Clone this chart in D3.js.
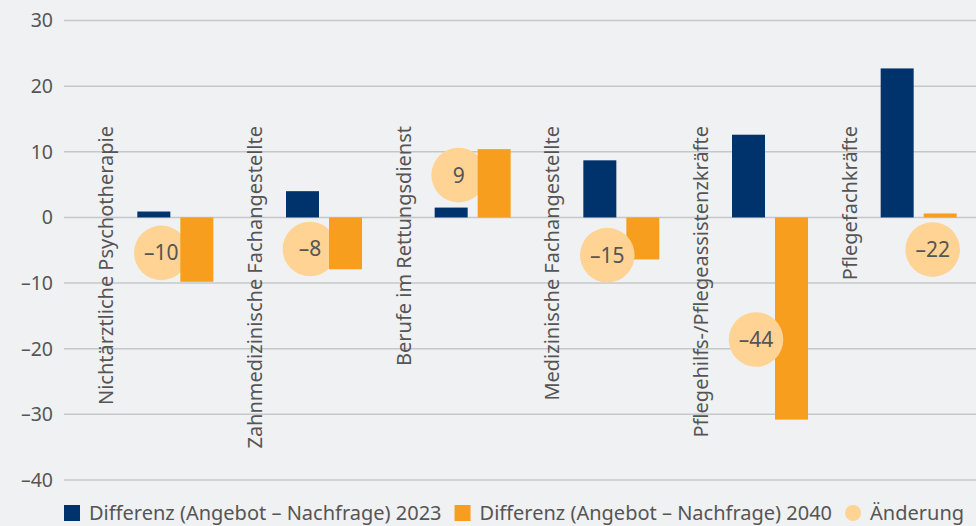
<!DOCTYPE html>
<html>
<head>
<meta charset="utf-8">
<script src="https://cdn.jsdelivr.net/npm/d3@7"></script>
<style>
    html, body { margin: 0; padding: 0; background: #f0f1f3; }
    svg { display: block; }
    text { font-family: "Noto Sans", "Open Sans", sans-serif; fill: #555; font-stretch: condensed; }
</style>
</head>
<body>
<svg id="viz"></svg>
<script>
var width = 976;
var height = 526;

// data
var categories = [
    "Nichtärztliche Psychotherapie",
    "Zahnmedizinische Fachangestellte",
    "Berufe im Rettungsdienst",
    "Medizinische Fachangestellte",
    "Pflegehilfs-/Pflegeassistenzkräfte",
    "Pflegefachkräfte"
];
var seriesKeys = ["2023", "2040"];
var seriesNames = [
    "Differenz (Angebot – Nachfrage) 2023",
    "Differenz (Angebot – Nachfrage) 2040",
    "Änderung"
];
var diff2023 = [0.9, 4.0, 1.5, 8.7, 12.6, 22.7];
var diff2040 = [-9.8, -7.9, 10.4, -6.4, -30.8, 0.6];
var change = [-10, -8, 9, -15, -44, -22];
// where the change bubbles sit (value axis) and which bar they lean to
var bubbleValue = [-5.4, -4.8, 6.45, -5.75, -18.6, -4.9];
var bubbleNear = ["2023", "2023", "2023", "2023", "2023", "2040"];
var yTicks = [30, 20, 10, 0, -10, -20, -30, -40];

var colors = { "2023": "#00336b", "2040": "#f79e1e", change: "#fed394" };

// minus as a dash, like the original
function fmt(v) {
    return v < 0 ? "–" + Math.abs(v) : String(v);
}

var svg = d3.select("#viz")
    .attr("width", width)
    .attr("height", height);

svg.append("rect")
    .attr("width", width)
    .attr("height", height)
    .attr("fill", "#f0f1f3");

var y = d3.scaleLinear()
    .domain([-40, 30])
    .range([480, 20.5]);

var x = d3.scaleBand()
    .domain(categories)
    .range([101, 993]);

var xSub = d3.scaleBand()
    .domain(seriesKeys)
    .range([-38, 38])
    .paddingInner(10 / 43);

// gridlines + tick labels
var grid = svg.append("g").attr("class", "grid");
grid.selectAll("line")
    .data(yTicks)
    .enter()
    .append("line")
    .attr("x1", 64)
    .attr("x2", width)
    .attr("y1", function (d) { return y(d); })
    .attr("y2", function (d) { return y(d); })
    .attr("stroke", "#c6c7c9")
    .attr("stroke-width", 1.5);

grid.selectAll("text")
    .data(yTicks)
    .enter()
    .append("text")
    .attr("x", 53)
    .attr("y", function (d) { return y(d); })
    .attr("dy", "0.35em")
    .attr("text-anchor", "end")
    .style("font-size", "19.5px")
    .text(fmt);

// category labels, rotated, end aligned at the top
svg.append("g").attr("class", "cat-labels")
    .selectAll("text")
    .data(categories)
    .enter()
    .append("text")
    .attr("transform", function (d) {
        return "translate(" + (x(d) + x.bandwidth() / 2 - 62) + ",126) rotate(-90)";
    })
    .attr("text-anchor", "end")
    .style("font-size", "20px")
    .text(function (d) { return d; });

var rows = categories.map(function (c, i) {
    return {
        cat: c,
        values: [
            { key: "2023", v: diff2023[i] },
            { key: "2040", v: diff2040[i] }
        ],
        change: change[i],
        bubble: bubbleValue[i],
        near: bubbleNear[i],
        i: i
    };
});

var groups = svg.append("g").attr("class", "bars")
    .selectAll("g")
    .data(rows)
    .enter()
    .append("g")
    .attr("transform", function (d) {
        return "translate(" + (x(d.cat) + x.bandwidth() / 2) + ",0)";
    });

function drawBar(g, key) {
    g.append("rect")
        .attr("x", function (d) { return xSub(key); })
        .attr("width", xSub.bandwidth())
        .attr("y", function (d) {
            var v = d.values.find(function (o) { return o.key == key; }).v;
            return y(Math.max(0, v));
        })
        .attr("height", function (d) {
            var v = d.values.find(function (o) { return o.key == key; }).v;
            return Math.abs(y(v) - y(0));
        })
        .attr("fill", colors[key]);
}

function drawBubble(g) {
    var b = g.append("g")
        .attr("transform", function (d) {
            var cx = d.near == "2023" ? -14 : 14;
            return "translate(" + cx + "," + y(d.bubble) + ")";
        });
    b.append("circle")
        .attr("r", 27.3)
        .attr("fill", colors.change);
    b.append("text")
        .attr("text-anchor", "middle")
        .attr("dy", "0.36em")
        .style("font-size", "21px")
        .text(function (d) { return fmt(d.change); });
}

// first three groups: orange bar sits over the bubble, the rest the other way round
groups.each(function (d) {
    var g = d3.select(this);
    drawBar(g, "2023");
    if (d.i < 3) {
        drawBubble(g);
        drawBar(g, "2040");
    } else {
        drawBar(g, "2040");
        drawBubble(g);
    }
});

// legend
var legend = svg.append("g").attr("class", "legend")
    .attr("transform", "translate(64,505)");
var lx = 0;
seriesNames.forEach(function (name, i) {
    if (i < 2) {
        legend.append("rect")
            .attr("x", lx)
            .attr("y", 0)
            .attr("width", 16)
            .attr("height", 16)
            .attr("fill", colors[seriesKeys[i]]);
    } else {
        legend.append("circle")
            .attr("cx", lx + 8)
            .attr("cy", 8)
            .attr("r", 8)
            .attr("fill", colors.change);
    }
    var t = legend.append("text")
        .attr("x", lx + 25)
        .attr("y", 8)
        .attr("dy", "0.36em")
        .style("font-size", "20px")
        .text(name);
    lx += 25 + t.node().getComputedTextLength() + 13;
});
</script>
</body>
</html>
